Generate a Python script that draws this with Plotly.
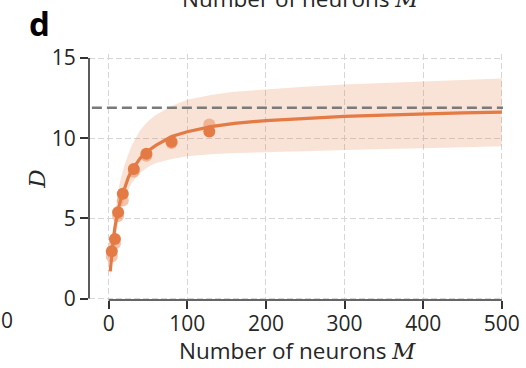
import plotly.graph_objects as go

# ---- data ----
M_pts = [4, 8, 12, 18, 32, 48, 80, 128]
D_pts = [2.95, 3.72, 5.38, 6.54, 8.08, 9.03, 9.78, 10.42]
D_pts_light = [2.62, 3.45, 5.15, 6.12, 7.90, 8.90, 9.70, 10.85]

M_fit = [2, 3, 4, 6, 8, 10, 12, 15, 20, 25, 30, 40, 50, 60, 80, 100, 130, 160,
         200, 250, 300, 350, 400, 450, 500]
D_fit = [1.70, 2.30, 2.85, 3.75, 4.45, 5.05, 5.55, 6.10, 6.90, 7.55, 8.05, 8.75,
         9.20, 9.55, 10.10, 10.40, 10.72, 10.92, 11.10, 11.25, 11.36, 11.44,
         11.52, 11.58, 11.62]
D_low = [1.20, 1.70, 2.20, 3.00, 3.60, 4.20, 4.70, 5.40, 6.20, 6.80, 7.25, 7.85,
         8.20, 8.45, 8.70, 8.87, 9.00, 9.07, 9.13, 9.20, 9.27, 9.33, 9.38, 9.43, 9.50]
D_up = [1.90, 2.60, 3.30, 4.30, 5.20, 6.00, 6.70, 7.40, 8.30, 9.00, 9.60, 10.50,
        11.05, 11.45, 12.00, 12.40, 12.70, 12.90, 13.05, 13.20, 13.35, 13.45,
        13.55, 13.62, 13.72]
D_ref = 11.9

x_ticks = [0, 100, 200, 300, 400, 500]
y_ticks = [0, 5, 10, 15]

ORANGE = "rgb(228,122,68)"
TXT = "#262626"
GRID = "#d3d6dc"
M_LABEL = "Number of neurons <span style=\"font-family:'DejaVu Serif'\"><i>M</i></span>"

fig = go.Figure()
fig.add_trace(go.Scatter(x=M_fit, y=D_low, mode="lines", line=dict(width=0),
                         showlegend=False, hoverinfo="skip"))
fig.add_trace(go.Scatter(x=M_fit, y=D_up, mode="lines", line=dict(width=0),
                         fill="tonexty", fillcolor="rgba(228,122,68,0.22)",
                         showlegend=False, hoverinfo="skip"))
fig.add_trace(go.Scatter(x=M_pts, y=D_pts_light, mode="markers",
                         marker=dict(size=12, color="rgba(228,122,68,0.45)"),
                         showlegend=False))
fig.add_trace(go.Scatter(x=M_pts, y=D_pts, mode="markers",
                         marker=dict(size=12, color=ORANGE), showlegend=False))
fig.add_trace(go.Scatter(x=M_fit, y=D_fit, mode="lines",
                         line=dict(color=ORANGE, width=3.2), showlegend=False))

# reference dashed line across the whole axis
fig.add_shape(type="line", xref="paper", x0=0.007, x1=1, yref="y", y0=D_ref, y1=D_ref,
              line=dict(color="#7a7a7a", width=2.6, dash="10px,5px"))
# trimmed spines
fig.add_shape(type="line", xref="paper", x0=0, x1=0, yref="y", y0=0, y1=15,
              line=dict(color="#333333", width=1.6))
fig.add_shape(type="line", xref="x", x0=0, x1=500, yref="paper", y0=0, y1=0,
              line=dict(color="#333333", width=1.6))

fig.update_layout(
    width=526, height=368,
    margin=dict(l=89, r=23, t=54, b=68, autoexpand=False),
    plot_bgcolor="white", paper_bgcolor="white",
    font=dict(family="Open Sans", size=21, color=TXT),
    xaxis=dict(range=[-25, 501.5], tickvals=x_ticks, ticks="outside", ticklen=8,
               tickwidth=1.6, tickcolor="#333333", showline=False, zeroline=False,
               automargin=False, ticklabelstandoff=-3,
               showgrid=True, gridcolor=GRID, griddash="6px,3px", gridwidth=1),
    yaxis=dict(range=[-0.09, 15.25], tickvals=y_ticks, ticks="outside", ticklen=8,
               tickwidth=1.6, tickcolor="#333333", showline=False, zeroline=False,
               automargin=False,
               showgrid=True, gridcolor=GRID, griddash="6px,3px", gridwidth=1),
    annotations=[
        dict(text="<b>d</b>", xref="paper", yref="paper", x=(39 - 89) / 414,
             y=(300.5 - 23) / 246.5, xanchor="center", yanchor="middle",
             showarrow=False, font=dict(size=33, color="black", family="Open Sans")),
        dict(text="<i>D</i>", xref="paper", yref="paper", x=(37 - 89) / 414,
             y=(300.5 - 180) / 246.5, xanchor="center", yanchor="middle",
             textangle=-90, showarrow=False,
             font=dict(size=23, color=TXT, family="DejaVu Serif")),
        dict(text=M_LABEL, xref="paper", yref="paper", x=(297 - 89) / 414,
             y=(300.5 - 351) / 246.5, xanchor="center", yanchor="middle",
             showarrow=False, font=dict(size=22.5, color=TXT)),
        dict(text=M_LABEL, xref="paper", yref="paper", x=(300 - 89) / 414,
             y=(300.5 - 16) / 246.5, xanchor="center", yanchor="bottom",
             showarrow=False, font=dict(size=22.5, color=TXT)),
        dict(text="0", xref="paper", yref="paper", x=(15 - 89) / 414,
             y=(300.5 - 321) / 246.5, xanchor="right", yanchor="middle",
             showarrow=False, font=dict(size=21, color=TXT)),
    ],
)

fig.write_html("out.html")
